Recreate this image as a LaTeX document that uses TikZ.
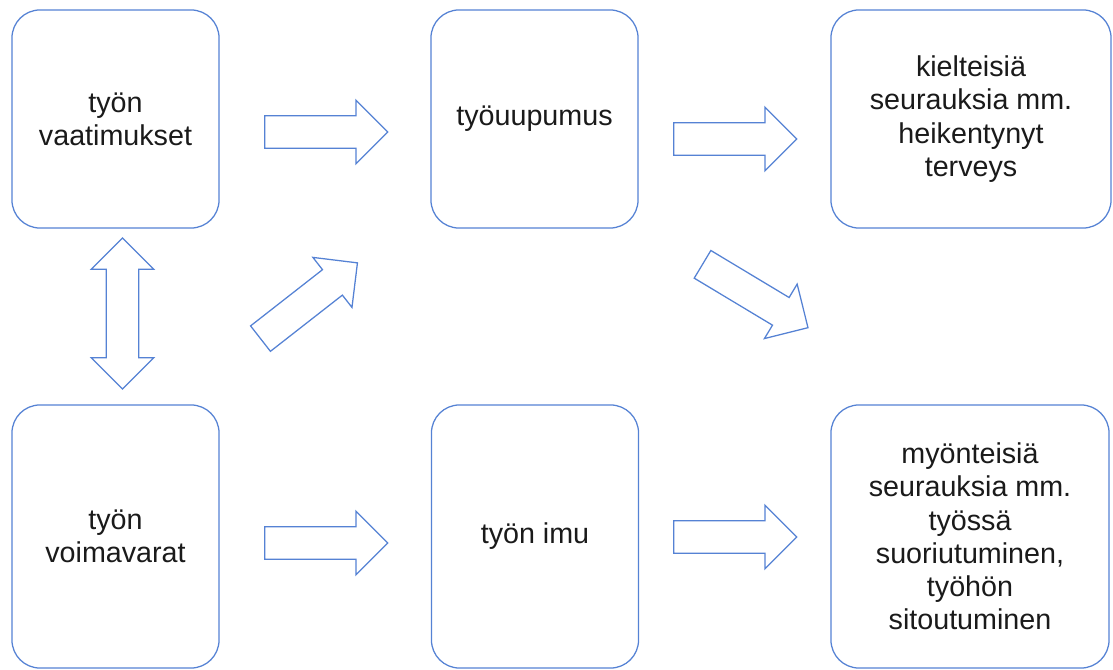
\documentclass[tikz,border=0pt]{standalone}
\usepackage{fontspec}
\setmainfont{Liberation Sans}
\usepackage{tikz}
\usetikzlibrary{shapes.arrows}
\definecolor{boxblue}{HTML}{5582D4}
\definecolor{txtgray}{HTML}{1A1A1A}

\begin{document}
\begin{tikzpicture}[
    x=0.025cm, y=0.025cm,
    stage/.style={
        draw=boxblue, fill=white, rounded corners=0.7cm,
        line width=0.9pt, minimum height=5.45cm,
        align=center, inner sep=0pt, text=txtgray,
        font=\fontsize{20.4}{23.6}\selectfont
    },
    flow/.style={
        single arrow, draw=boxblue, fill=white, line width=0.9pt,
        single arrow head extend=0.39cm, single arrow head indent=0pt,
        minimum height=3.075cm, text height=0.775cm, text depth=0pt,
        inner sep=0pt, anchor=tail
    },
    link/.style={
        double arrow, draw=boxblue, fill=white, line width=0.9pt,
        double arrow head extend=0.38cm, double arrow head indent=0pt,
        minimum height=3.775cm, text height=0.775cm, text depth=0pt,
        inner sep=0pt
    }
]
\useasboundingbox (0,0) rectangle (1113,-670);

% --- Top row ---
\node[stage, minimum width=5.175cm] (vaat) at (115.5,-119) {työn\\vaatimukset};
\node[stage, minimum width=5.175cm] (uup) at (534.5,-119) {työuupumus};
\node[stage, minimum width=7cm] (kielt) at (971,-119) {kielteisiä\\seurauksia mm.\\heikentynyt\\terveys};

% --- Bottom row ---
\node[stage, minimum width=5.175cm, minimum height=6.575cm] (voima) at (115.5,-536.5) {työn\\voimavarat};
\node[stage, minimum width=5.175cm, minimum height=6.575cm] (imu) at (535,-536.5) {työn imu};
\node[stage, minimum width=6.95cm, minimum height=6.575cm] (myont) at (970,-536.5) {myönteisiä\\seurauksia mm.\\työssä\\suoriutuminen,\\työhön\\sitoutuminen};

% --- Block arrows (placed by their tails) ---
\node[flow] (f1) at (264,-132) {};
\node[flow] (f2) at (673,-139) {};
\node[flow] (f3) at (264,-543) {};
\node[flow] (f4) at (673,-537) {};
\node[flow, rotate=38] (f5) at (260,-339) {};
\node[flow, rotate=-31] (f6) at (702,-264) {};
\node[link, rotate=90] (l1) at (122.5,-313.5) {};

\end{tikzpicture}
\end{document}
